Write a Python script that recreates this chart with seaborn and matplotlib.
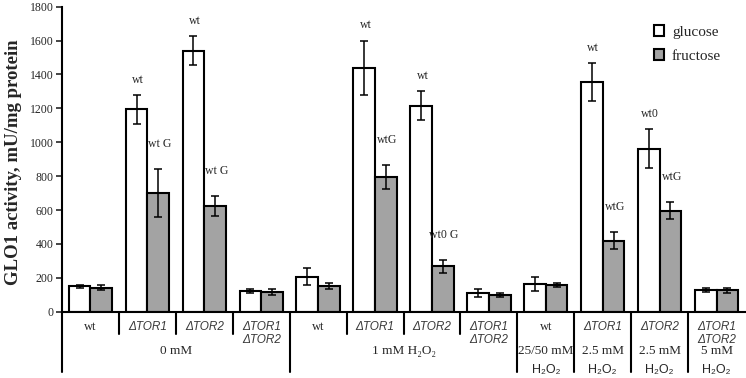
import matplotlib
matplotlib.use("Agg")
import matplotlib.pyplot as plt
import matplotlib.transforms as mtransforms
from matplotlib.patches import Patch
import seaborn as sns
import pandas as pd
import numpy as np

# ---- data ----
strains = ["wt", "ΔTOR1", "ΔTOR2", "ΔTOR1\nΔTOR2",
           "wt", "ΔTOR1", "ΔTOR2", "ΔTOR1\nΔTOR2",
           "wt", "ΔTOR1", "ΔTOR2", "ΔTOR1\nΔTOR2"]
glucose = [150, 1195, 1540, 123, 205, 1440, 1215, 110, 165, 1355, 962, 127]
glucose_err = [8, 85, 85, 10, 50, 160, 85, 25, 40, 110, 115, 12]
fructose = [142, 700, 625, 115, 150, 795, 268, 97, 157, 420, 597, 127]
fructose_err = [15, 140, 60, 18, 18, 70, 40, 12, 10, 52, 52, 15]
glucose_labels = ["", "wt", "wt", "", "", "wt", "wt", "", "", "wt", "wt0", ""]
fructose_labels = ["", "wt G", "wt G", "", "", "wtG", "wt0 G", "", "", "wtG", "wtG", ""]
block_labels = ["0 mM", "1 mM H₂O₂"]
single_conditions = ["25/50 mM", "2.5 mM", "2.5 mM", "5 mM"]
series = ["glucose", "fructose"]

group_ids = [f"g{i}" for i in range(len(strains))]
df = pd.DataFrame({
    "group": group_ids * 2,
    "sugar": [series[0]] * len(glucose) + [series[1]] * len(fructose),
    "value": glucose + fructose,
    "err": glucose_err + fructose_err,
    "label": glucose_labels + fructose_labels,
})

sns.set_style("white")
plt.rcParams["font.family"] = ["Liberation Serif", "DejaVu Serif"]

fig = plt.figure(figsize=(7.46, 3.78), dpi=100)
ax = fig.add_axes([62 / 746, 1 - 311.7 / 378, (745 - 62) / 746, 305 / 378])

palette = {"glucose": "white", "fructose": "#a3a3a3"}
sns.barplot(data=df, x="group", y="value", hue="sugar", order=group_ids,
            hue_order=series, palette=palette, errorbar=None, width=0.76,
            edgecolor="black", linewidth=1.5, ax=ax, legend=False)

# error bars + annotations
bars = [p for p in ax.patches if p.get_height() > 0]
for s_i, s in enumerate(series):
    sub = df[df["sugar"] == s].reset_index(drop=True)
    sbars = bars[s_i * len(group_ids):(s_i + 1) * len(group_ids)]
    xs = [b.get_x() + b.get_width() / 2 for b in sbars]
    ax.errorbar(xs, sub["value"], yerr=sub["err"], fmt="none", ecolor="black",
                elinewidth=1.1, capsize=2.6, capthick=1.1, zorder=5)
    off = 11 if s == "glucose" else 18
    for x, v, e, lab in zip(xs, sub["value"], sub["err"], sub["label"]):
        if lab:
            ax.annotate(lab, (x, v + e), xytext=(1, off), textcoords="offset points",
                        ha="center", va="center", fontsize=8.5)

ax.set_xlim(-0.5, len(group_ids) - 0.5)
ax.set_ylim(0, 1800)
ax.set_yticks(np.arange(0, 1801, 200))
ax.tick_params(axis="y", direction="out", length=4, width=1.2, left=True, labelsize=8.5, pad=2)
ax.tick_params(axis="x", bottom=False, labelbottom=False)
ax.set_xlabel("")
ax.set_ylabel("GLO1 activity, mU/mg protein", fontsize=13.5, fontweight="bold", labelpad=3)
ax.yaxis.set_label_coords(-0.058, 0.49)
for sp in ["top", "right"]:
    ax.spines[sp].set_visible(False)
ax.spines["left"].set_linewidth(1.5)
ax.spines["bottom"].set_linewidth(1.5)
ax.spines["left"].set_color("black")
ax.spines["bottom"].set_color("black")

# category table under axis
trans = mtransforms.blended_transform_factory(ax.transData, ax.transAxes)
short_bot = -(334 - 311.7) / 305
long_bot = -(372 - 311.7) / 305
ax.plot([-0.5, -0.5], [0, long_bot], color="black", lw=1.5, transform=trans, clip_on=False)
for i in range(1, len(group_ids)):
    x = i - 0.5
    bot = long_bot if i >= 8 or i == 4 else short_bot
    ax.plot([x, x], [0, bot], color="black", lw=1.5, transform=trans, clip_on=False)

row1 = -(327 - 311.7) / 305
row2 = -(340 - 311.7) / 305
row_c = -(351 - 311.7) / 305
row_h = -(370 - 311.7) / 305
sans_it = dict(family=["Liberation Sans", "DejaVu Sans"], style="italic", color="#3a3a3a", fontsize=8.5)
for i, s in enumerate(strains):
    if s == "wt":
        ax.text(i, row1, s, transform=trans, ha="center", va="center", fontsize=9)
    else:
        lines = s.split("\n")
        ax.text(i, row1, lines[0], transform=trans, ha="center", va="center", **sans_it)
        if len(lines) > 1:
            ax.text(i, row2, lines[1], transform=trans, ha="center", va="center", **sans_it)
ax.text(1.5, row_c, block_labels[0], transform=trans, ha="center", va="center", fontsize=9.5)
ax.text(5.5, row_c, block_labels[1], transform=trans, ha="center", va="center", fontsize=9.5)
for j, c in enumerate(single_conditions):
    ax.text(8 + j, row_c, c, transform=trans, ha="center", va="center", fontsize=9.5)
    ax.text(8 + j, row_h, "H₂O₂", transform=trans, ha="center", va="center",
            family=["Liberation Sans", "DejaVu Sans"], fontsize=9)

handles = [Patch(facecolor=palette[s], edgecolor="black", linewidth=1.5) for s in series]
leg = ax.legend(handles, series, loc="upper right", bbox_to_anchor=(0.985, 0.985), frameon=False,
                fontsize=11, handlelength=0.7, handleheight=0.7, handletextpad=0.5,
                labelspacing=0.7)

fig.savefig("out.png", dpi=100)
